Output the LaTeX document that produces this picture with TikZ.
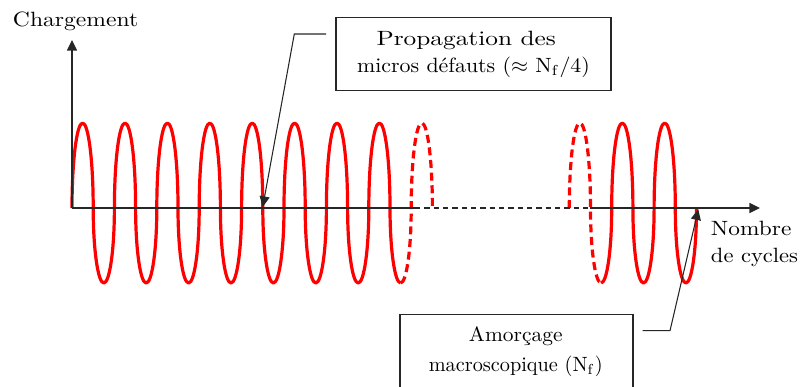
\documentclass[tikz,border=0pt]{standalone}
\usepackage{graphicx}
\usetikzlibrary{arrows.meta}
\begin{document}
\begin{tikzpicture}[x=0.75pt,y=-0.75pt,
  wave/.style={red, line width=2.4pt, line join=round},
  wavedash/.style={wave, dash pattern=on 6pt off 3.5pt},
  axis/.style={black!85, line width=1.1pt},
  ann/.style={black!85, line width=0.8pt},
  tip/.style={-{Triangle[length=8pt,width=7.5pt]}},
  lbl/.style={font=\fontsize{10}{20.25}\selectfont, inner sep=0pt},
  box/.style={draw=black!85, line width=0.9pt},
  up/.style={start angle=180, end angle=360, x radius=10.6, y radius=85},
  dn/.style={start angle=180, end angle=0, x radius=10.6, y radius=75}]
\useasboundingbox (0,0) rectangle (802,386);
\clip (0,0) rectangle (802,386);

% wave, first part (half-ellipse lobes)
\coordinate (w1) at (72,208);
\draw[wave] (w1) foreach \i in {1,...,7} { arc[up] arc[dn] }
  arc[up] arc[start angle=180, end angle=90, x radius=10.6, y radius=75] coordinate (t1);
\draw[wavedash] (t1) arc[start angle=90, end angle=0, x radius=10.6, y radius=75] arc[up];
% wave, second part
\coordinate (w2) at (569.3,208);
\draw[wavedash] (w2) arc[up] arc[start angle=180, end angle=90, x radius=10.6, y radius=75] coordinate (t2);
\draw[wave] (t2) arc[start angle=90, end angle=0, x radius=10.6, y radius=75]
  arc[up] arc[dn] arc[up] arc[dn];

% axes
\coordinate (O) at (72,208);
\coordinate (ytop) at (72,40);
\coordinate (xd1) at (415,208);
\coordinate (xd2) at (590,208);
\coordinate (xend) at (760,208);
\draw[axis,tip] (O) -- (ytop);
\draw[axis] (O) -- (xd1);
\draw[axis,dash pattern=on 4pt off 3pt] (xd1) -- (xd2);
\draw[axis,tip] (xd2) -- (xend);

% labels
\node[lbl, anchor=base west] (charg) at (12.7,26.7) {\scalebox{1.77}[1.55]{Chargement}};
\node[lbl, anchor=north west, align=left] (nombre) at (710.7,220.7)
  {\scalebox{1.75}[1.55]{Nombre}\\\scalebox{1.69}[1.55]{de cycles}};

% top box
\node[box, lbl, minimum width=206.25pt, minimum height=55pt, align=center] (prop) at (473.5,54)
  {\scalebox{1.9}[1.55]{Propagation des}\hspace*{11pt}\\\scalebox{1.64}[1.55]{micros défauts ($\approx$ N$_\mathrm{f}$/4)}};

% bottom box
\node[box, minimum width=174.75pt, minimum height=60pt, anchor=north west, inner sep=0pt] (amorbox) at (399.3,314) {};
\node[lbl, align=center, anchor=north] (amortext) at (515.8,326.5)
  {\scalebox{1.61}[1.55]{Amorçage}\\[2pt]\scalebox{1.52}[1.55]{macroscopique (N$_\mathrm{f}$)}};

% connectors
\coordinate (pa) at (326,34);
\coordinate (pb) at (294.3,34);
\coordinate (pt) at (262.7,207);
\draw[ann,tip] (pa) -- (pb) -- (pt);
\coordinate (qa) at (642.7,330.7);
\coordinate (qb) at (670,330.7);
\coordinate (qt) at (698.3,209.3);
\draw[ann,tip] (qa) -- (qb) -- (qt);
\end{tikzpicture}
\end{document}
